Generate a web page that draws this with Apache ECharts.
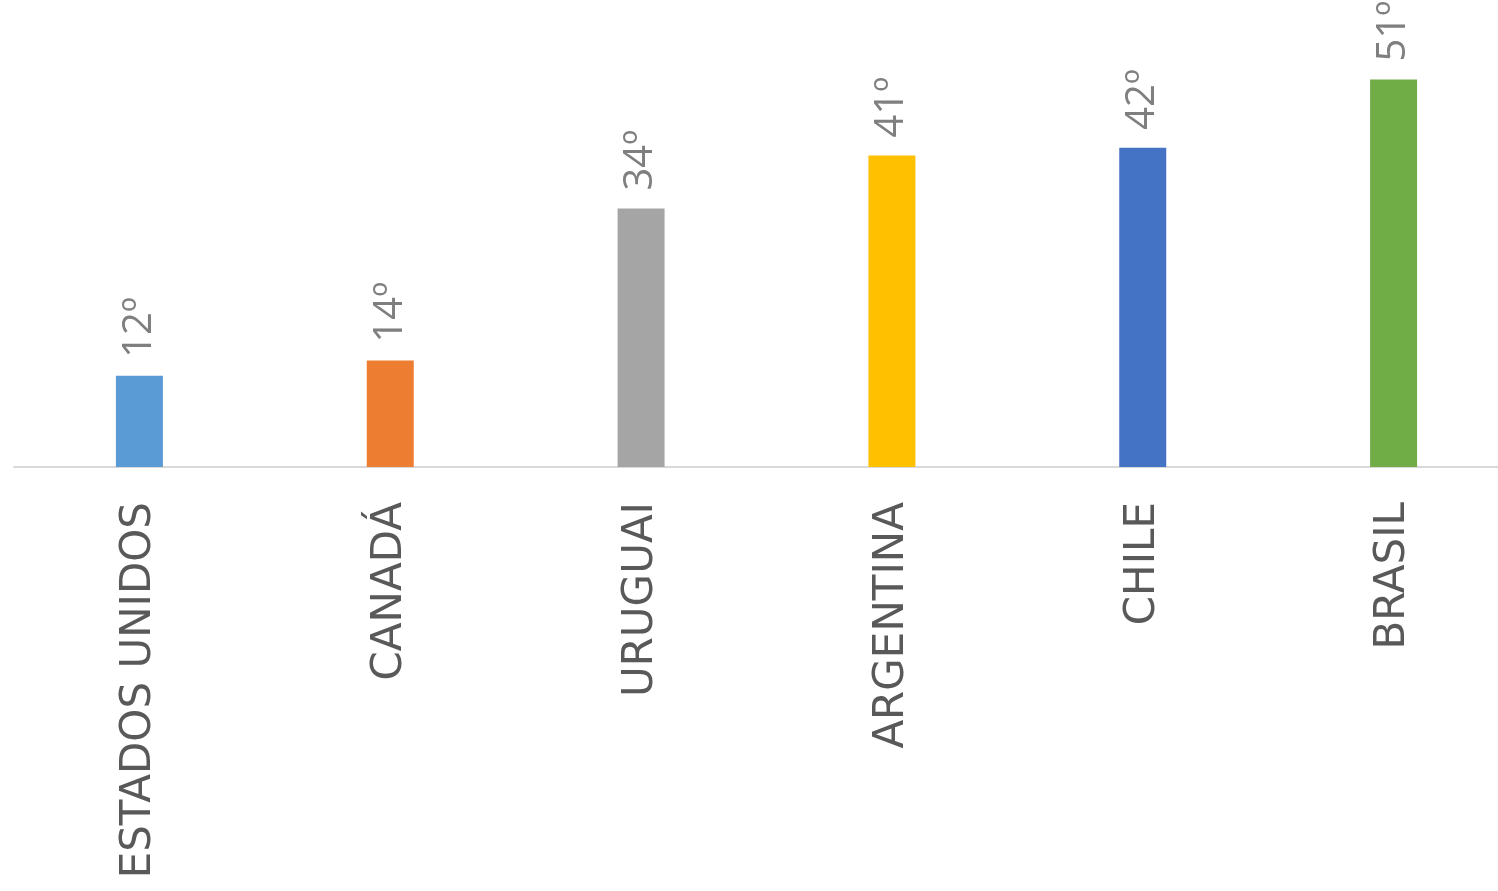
<!DOCTYPE html>
<html><head><meta charset="utf-8">
<script src="https://cdn.jsdelivr.net/npm/echarts@6/dist/echarts.min.js"></script>
<style>html,body{margin:0;padding:0;background:#fff;overflow:hidden}#c{width:1520px;height:891px}</style>
</head><body><div id="c"></div>
<script>
const categories = ['ESTADOS UNIDOS', 'CANADÁ', 'URUGUAI', 'ARGENTINA', 'CHILE', 'BRASIL'];
const values = [12, 14, 34, 41, 42, 51];
const colors = ['#5B9BD5', '#ED7D31', '#A5A5A5', '#FFC000', '#4472C4', '#70AD47'];

const chart = echarts.init(document.getElementById('c'));
chart.setOption({
  animation: false,
  grid: { left: 14, right: 1, top: 11, bottom: 424, containLabel: false },
  xAxis: {
    type: 'category', data: categories,
    axisLine: { lineStyle: { color: '#D9D9D9', width: 2 } },
    axisTick: { show: false },
    axisLabel: { rotate: 90, margin: 35, color: '#595959', fontSize: 42, fontFamily: '"DejaVu Sans"', interval: 0 }
  },
  yAxis: { type: 'value', min: 0, max: 60, show: false, splitLine: { show: false } },
  series: [{
    type: 'bar', barWidth: 47,
    data: values.map((v, i) => ({ value: v, itemStyle: { color: colors[i] } })),
    label: {
      show: true, position: 'top', rotate: 90, align: 'left', verticalAlign: 'middle', distance: 18,
      color: '#7F7F7F', fontSize: 40, fontFamily: 'Open Sans',
      formatter: p => p.value + 'º'
    }
  }]
});
</script></body></html>
